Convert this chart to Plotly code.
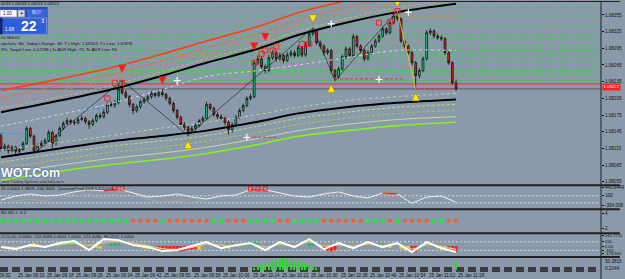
import plotly.graph_objects as go

FONT = "Liberation Sans, Arial, sans-serif"
BG = "#8a9aab"

# ---------------- main price data (M1 bars, index 0..124) ----------------
first_open = 1.08138
closes = [1.08115, 1.08119, 1.08111, 1.08117, 1.08110, 1.08113, 1.08124, 1.08151, 1.08137, 1.08111,
          1.08120, 1.08124, 1.08129, 1.08144, 1.08124, 1.08138, 1.08151, 1.08160, 1.08165, 1.08162,
          1.08161, 1.08167, 1.08169, 1.08163, 1.08158, 1.08165, 1.08174, 1.08172, 1.08180, 1.08194,
          1.08193, 1.08197, 1.08222, 1.08215, 1.08208, 1.08194, 1.08183, 1.08190, 1.08199, 1.08203,
          1.08208, 1.08214, 1.08210, 1.08215, 1.08212, 1.08205, 1.08196, 1.08183, 1.08171, 1.08158,
          1.08153, 1.08146, 1.08151, 1.08156, 1.08165, 1.08169, 1.08194, 1.08187, 1.08176, 1.08172,
          1.08169, 1.08162, 1.08149, 1.08158, 1.08171, 1.08183, 1.08192, 1.08205, 1.08208, 1.08269,
          1.08276, 1.08262, 1.08255, 1.08278, 1.08287, 1.08276, 1.08282, 1.08273, 1.08283, 1.08287,
          1.08282, 1.08296, 1.08283, 1.08301, 1.08321, 1.08326, 1.08305, 1.08299, 1.08287, 1.08291,
          1.08255, 1.08244, 1.08258, 1.08280, 1.08294, 1.08282, 1.08316, 1.08299, 1.08291, 1.08276,
          1.08287, 1.08299, 1.08308, 1.08317, 1.08330, 1.08323, 1.08341, 1.08353, 1.08348, 1.08308,
          1.08299, 1.08287, 1.08269, 1.08246, 1.08255, 1.08276, 1.08323, 1.08326, 1.08317, 1.08314,
          1.08312, 1.08287, 1.08269, 1.08233, 1.08222]
highs = [1.08143, 1.08124, 1.08122, 1.08121, 1.08120, 1.08118, 1.08128, 1.08155, 1.08154, 1.08140,
         1.08124, 1.08129, 1.08133, 1.08148, 1.08147, 1.08141, 1.08155, 1.08164, 1.08170, 1.08168,
         1.08166, 1.08171, 1.08174, 1.08172, 1.08166, 1.08169, 1.08178, 1.08179, 1.08185, 1.08198,
         1.08199, 1.08202, 1.08231, 1.08237, 1.08220, 1.08211, 1.08197, 1.08194, 1.08203, 1.08207,
         1.08212, 1.08218, 1.08217, 1.08219, 1.08222, 1.08215, 1.08208, 1.08199, 1.08186, 1.08174,
         1.08162, 1.08156, 1.08155, 1.08160, 1.08168, 1.08173, 1.08199, 1.08197, 1.08190, 1.08180,
         1.08176, 1.08172, 1.08165, 1.08162, 1.08175, 1.08187, 1.08196, 1.08209, 1.08213, 1.08274,
         1.08282, 1.08280, 1.08266, 1.08283, 1.08292, 1.08290, 1.08287, 1.08285, 1.08288, 1.08292,
         1.08291, 1.08301, 1.08299, 1.08306, 1.08325, 1.08332, 1.08329, 1.08309, 1.08302, 1.08295,
         1.08294, 1.08258, 1.08262, 1.08284, 1.08298, 1.08297, 1.08321, 1.08319, 1.08302, 1.08294,
         1.08291, 1.08303, 1.08312, 1.08321, 1.08334, 1.08333, 1.08345, 1.08357, 1.08362, 1.08351,
         1.08311, 1.08302, 1.08290, 1.08272, 1.08259, 1.08280, 1.08328, 1.08331, 1.08329, 1.08321,
         1.08318, 1.08315, 1.08290, 1.08272, 1.08239]
lows = [1.08110, 1.08111, 1.08106, 1.08108, 1.08105, 1.08106, 1.08111, 1.08121, 1.08133, 1.08106,
        1.08108, 1.08117, 1.08120, 1.08126, 1.08115, 1.08120, 1.08135, 1.08148, 1.08157, 1.08158,
        1.08157, 1.08158, 1.08164, 1.08159, 1.08150, 1.08155, 1.08162, 1.08168, 1.08169, 1.08177,
        1.08189, 1.08188, 1.08194, 1.08211, 1.08203, 1.08189, 1.08177, 1.08179, 1.08186, 1.08195,
        1.08200, 1.08204, 1.08206, 1.08207, 1.08208, 1.08201, 1.08192, 1.08179, 1.08167, 1.08154,
        1.08148, 1.08138, 1.08142, 1.08147, 1.08153, 1.08161, 1.08166, 1.08183, 1.08172, 1.08168,
        1.08165, 1.08157, 1.08140, 1.08144, 1.08155, 1.08168, 1.08180, 1.08189, 1.08201, 1.08205,
        1.08265, 1.08258, 1.08250, 1.08252, 1.08274, 1.08271, 1.08272, 1.08268, 1.08270, 1.08279,
        1.08278, 1.08279, 1.08279, 1.08280, 1.08298, 1.08317, 1.08301, 1.08294, 1.08282, 1.08283,
        1.08250, 1.08237, 1.08240, 1.08255, 1.08276, 1.08278, 1.08279, 1.08295, 1.08286, 1.08271,
        1.08273, 1.08284, 1.08296, 1.08305, 1.08314, 1.08319, 1.08320, 1.08338, 1.08344, 1.08304,
        1.08295, 1.08283, 1.08265, 1.08222, 1.08241, 1.08252, 1.08273, 1.08319, 1.08313, 1.08310,
        1.08308, 1.08283, 1.08265, 1.08229, 1.08219]

main_ticks = [1.08055, 1.08085, 1.08115, 1.08145, 1.08175, 1.08205,
              1.08235, 1.08265, 1.08295, 1.08325, 1.08355]

# ---------------- indicator lines on price chart ----------------
ma_idx = [0, 16, 30, 43, 56, 70, 81, 94, 108, 124]
ma_upper = [1.08180, 1.08201, 1.08221, 1.08244, 1.08269, 1.08294, 1.08319, 1.08341, 1.08360, 1.08375]
band_o1 = [1.08219, 1.08240, 1.08260, 1.08283, 1.08308, 1.08334, 1.08359, 1.08380, 1.08400, 1.08414]
band_o2 = [1.08206, 1.08228, 1.08248, 1.08271, 1.08296, 1.08321, 1.08346, 1.08368, 1.08387, 1.08402]
band_o3 = [1.08197, 1.08219, 1.08239, 1.08262, 1.08287, 1.08312, 1.08337, 1.08359, 1.08378, 1.08393]
band_o4 = [1.08187, 1.08208, 1.08228, 1.08251, 1.08276, 1.08301, 1.08326, 1.08348, 1.08368, 1.08382]
ma_lower = [1.08099, 1.08115, 1.08128, 1.08137, 1.08147, 1.08163, 1.08178, 1.08189, 1.08197, 1.08203]
band_g1 = [1.08090, 1.08106, 1.08119, 1.08128, 1.08138, 1.08155, 1.08169, 1.08180, 1.08189, 1.08194]
band_g2 = [1.08079, 1.08095, 1.08108, 1.08117, 1.08128, 1.08144, 1.08158, 1.08169, 1.08178, 1.08183]
band_g3 = [1.08069, 1.08085, 1.08097, 1.08106, 1.08117, 1.08133, 1.08147, 1.08158, 1.08167, 1.08172]
band_g4 = [1.08058, 1.08074, 1.08086, 1.08095, 1.08106, 1.08122, 1.08137, 1.08147, 1.08156, 1.08162]
light_d1 = [1.08112, 1.08126, 1.08138, 1.08151, 1.08162, 1.08176, 1.08189, 1.08201, 1.08208, 1.08214]
light_d2 = [1.08155, 1.08176, 1.08196, 1.08219, 1.08244, 1.08255, 1.08265, 1.08278, 1.08291, 1.08291]

zigzag_idx = [9, 33, 51, 85, 91, 108]
zigzag_val = [1.08106, 1.08237, 1.08138, 1.08332, 1.08237, 1.08362]
zigzag_last_idx = [108, 113]
zigzag_last_val = [1.08362, 1.08222]

level_prices = [1.08368, 1.08353, 1.08335, 1.08321, 1.08314, 1.08299, 1.08291,
                1.08285, 1.08278, 1.08269, 1.08264, 1.08255, 1.08249, 1.08237]
ask_line = 1.08231
bid_line = 1.08222

seg_start = [-1, 22, 66, 91, 113, 108]
seg_end = [6, 29, 75, 110, 124, 124]
seg_price = [1.08142, 1.08187, 1.08135, 1.08240, 1.08222, 1.08353]
seg_color = ["#3f8fe0", "#3f8fe0", "#e03030", "#e03030", "#e03030", "#ff7a3a"]

red_arrow_idx = [33, 44, 69, 72]
red_arrow_val = [1.08251, 1.08230, 1.08291, 1.08308]
yel_down_idx = [85, 108]
yel_down_val = [1.08341, 1.08369]
yel_up_idx = [51, 90, 113]
yel_up_val = [1.08129, 1.08230, 1.08215]
red_sq_idx = [29, 31, 33, 69, 71, 72, 74, 75, 82, 84, 103, 106, 108]
red_sq_val = [1.08205, 1.08233, 1.08233, 1.08269, 1.08285, 1.08291, 1.08291,
              1.08298, 1.08303, 1.08303, 1.08341, 1.08342, 1.08362]
plus_idx = [48, 67, 90, 103, 111]
plus_val = [1.08237, 1.08135, 1.08339, 1.08239, 1.08360]

# ---------------- sub window 1: QuantumTrend oscillator ----------------
osc_idx = [0, 4, 8, 12, 16, 20, 24, 28, 32, 36, 40, 44, 48, 52, 56, 60,
           64, 68, 72, 76, 80, 84, 88, 92, 96, 100, 104, 108, 112, 116, 120, 124]
osc_gray = [134, -129, -41, -129, 90, 46, 178, -41, 266, 222, -41, -173, -129, -217, 2, 222,
            -41, 441, 354, 222, 46, -41, 222, 441, 90, -173, 134, 354, 2, 2, 266, -304]
osc_white = [-85, 90, 178, 90, 134, 266, 354, 310, 398, 222, 46, 90, 178, 46, -41, 90,
             134, 354, 354, 222, 90, 46, 178, 266, 90, 2, 222, 178, -217, 46, 90, -173]
osc_red_sq_idx = [31, 33, 68, 70, 72]
osc_red_sq_val = [430, 430, 400, 400, 400]

# ---------------- sub window 2: dots ----------------
dot_idx = list(range(0, 125, 2))
dot_codes = ("gggggggggggggggggg" "oooo" "g" "oooooo" "gg" "ooo" "gggg" "oo"
             "gggg" "oooooo" "ggg" "o" "g" "oooo" "gg" "oo")

# ---------------- sub window 3: CCI ----------------
cci_white = [-23, -70, 23, -23, 70, 117, -93, 163, 140, 23, -23, -117, -93, 0, 93, -47,
             23, 70, -93, 93, -23, 163, -70, 70, -47, 93, -23, 70, -140, 93, -47, -140]
cci_khaki = [0, -30, -10, 0, 30, 60, 20, 80, 110, 60, 10, -60, -80, -30, 40, 20,
             0, 50, -20, 40, 10, 100, 0, 30, 0, 50, 10, 40, -70, 30, -10, -80]
hist_green_idx = [17, 18, 19, 20, 30, 31, 32, 65, 66, 67, 68, 69, 70, 84, 85, 102, 103, 104]
hist_green_val = [40, 60, 70, 50, 50, 80, 60, 40, 70, 90, 110, 100, 70, 60, 80, 50, 70, 40]
hist_yel_idx = [8, 9, 10, 26, 27, 39, 40, 54, 61, 62, 106, 109, 110, 111, 119, 120, 121]
hist_yel_val = [50, 70, 40, -40, -60, -50, -70, -80, -40, -60, -40, -60, -90, -70, -50, -80, -60]
hist_red_idx = [42, 43, 44, 45, 46, 47, 48, 49, 50, 51, 52, 53, 88, 89, 90, 91,
                112, 113, 122, 123, 124]
hist_red_val = [-70, -90, -100, -110, -90, -80, -100, -120, -110, -90, -80, -60,
                -60, -100, -120, -90, -110, -130, -90, -120, -130]

# ---------------- sub window 4: histogram ----------------
vol_idx = [69, 70, 71, 72, 73, 74, 75, 76, 77, 78, 79, 80, 81, 82, 83, 84, 85, 86, 124]
vol_val = [0.15, 0.3, 0.45, 0.55, 0.65, 0.75, 0.85, 0.9, 1.0, 0.95, 0.9, 0.8,
           0.7, 0.6, 0.5, 0.4, 0.3, 0.2, 0.7]

time_labels = ["25 Jan 09:10", "25 Jan 09:18", "25 Jan 09:26", "25 Jan 09:34",
               "25 Jan 09:42", "25 Jan 09:50", "25 Jan 09:58", "25 Jan 10:06", "25 Jan 10:14",
               "25 Jan 10:22", "25 Jan 10:30", "25 Jan 10:38", "25 Jan 10:46", "25 Jan 10:54",
               "25 Jan 11:02", "25 Jan 11:18"]
time_label_bars = [4, 12, 20, 28, 36, 44, 52, 60, 68, 76, 84, 92, 100, 108, 116, 124]

# ======================================================================
bars = list(range(len(closes)))
opens = [first_open] + closes[:-1]


def PX(x):
    return x / 606.0


def PY(y):
    return 1 - y / 271.0


fig = go.Figure()

fig.add_trace(go.Candlestick(
    x=bars, open=opens, high=highs, low=lows, close=closes,
    increasing=dict(line=dict(color="#101010", width=0.8), fillcolor="#2fcf8a"),
    decreasing=dict(line=dict(color="#101010", width=0.8), fillcolor="#e8231c"),
    xaxis="x", yaxis="y", hoverinfo="skip"))


def line(x, y, color, width=1, dash="solid", yaxis="y", shape="spline"):
    fig.add_trace(go.Scatter(x=x, y=y, mode="lines", yaxis=yaxis, xaxis="x",
                             line=dict(color=color, width=width, dash=dash, shape=shape),
                             hoverinfo="skip"))


line(ma_idx, band_o4, "#e8a070", 1, "3px,2px")
line(ma_idx, band_o3, "#f07a4a", 1, "3px,2px")
line(ma_idx, band_o2, "#ff6030", 1, "4px,2px")
line(ma_idx, band_o1, "#ff4010", 1.6)
line(ma_idx, light_d2, "#cfd4d6", 1, "3px,3px")
line(ma_idx, light_d1, "#b8d890", 1, "3px,3px")
line(ma_idx, band_g1, "#b8e070", 1, "3px,2px")
line(ma_idx, band_g2, "#98d050", 1, "3px,2px")
line(ma_idx, band_g3, "#c2dca0", 1)
line(ma_idx, band_g4, "#86f020", 1.6)
line(ma_idx, ma_upper, "#000000", 2)
line(ma_idx, ma_lower, "#000000", 2)
line(zigzag_idx, zigzag_val, "#2a2a2a", 0.7, shape="linear")
line(zigzag_last_idx, zigzag_last_val, "#e8c020", 0.9, shape="linear")

for s, e, p, c in zip(seg_start, seg_end, seg_price, seg_color):
    line([s, e], [p, p], c, 1, "3px,2px", shape="linear")


def markers(x, y, symbol, size, color, lcolor=None, lwidth=0, yaxis="y"):
    fig.add_trace(go.Scatter(x=x, y=y, mode="markers", yaxis=yaxis, xaxis="x", hoverinfo="skip",
                             marker=dict(symbol=symbol, size=size, color=color,
                                         line=dict(color=lcolor or color, width=lwidth))))


markers(red_sq_idx, red_sq_val, "square-open", 5, "#ff2020", "#ff2020", 1)
markers(red_arrow_idx, red_arrow_val, "arrow-down", 8, "#ff1a1a")
markers(yel_down_idx, yel_down_val, "arrow-down", 8, "#ffe600", "#9a7a00", 0.5)
markers(yel_up_idx, yel_up_val, "arrow-up", 8, "#ffe600", "#9a7a00", 0.5)
markers(plus_idx, plus_val, "cross-thin", 5, "#ffffff", "#ffffff", 1.2)

# sub window 1
line(osc_idx, osc_gray, "#a4a4a4", 1, yaxis="y2", shape="linear")
line(osc_idx, osc_white, "#eeeeee", 1, yaxis="y2", shape="linear")
for a, b in [(7, 9), (17, 19), (26, 28)]:
    line(osc_idx[a:b], osc_white[a:b], "#ff1a1a", 1.3, yaxis="y2", shape="linear")
markers(osc_red_sq_idx, osc_red_sq_val, "square-open", 4, "#ff2020", "#ff2020", 1, yaxis="y2")

# sub window 2
dot_colors = ["#22ee33" if c == "g" else "#ff5a1f" for c in dot_codes]
fig.add_trace(go.Scatter(x=dot_idx, y=[3] * len(dot_idx), mode="markers", yaxis="y3", xaxis="x",
                         hoverinfo="skip",
                         marker=dict(symbol="square", size=3.6, color=dot_colors, line=dict(width=0))))

# sub window 3
for idx, val, col in [(hist_green_idx, hist_green_val, "#25b870"),
                      (hist_yel_idx, hist_yel_val, "#ffd21a"),
                      (hist_red_idx, hist_red_val, "#ff1a1a")]:
    fig.add_trace(go.Bar(x=idx, y=val, yaxis="y4", xaxis="x", width=0.8, marker=dict(color=col, line=dict(width=0)),
                         hoverinfo="skip"))
line(osc_idx, cci_khaki, "#d9c274", 1.4, yaxis="y4", shape="spline")
line(osc_idx, cci_white, "#ffffff", 2, yaxis="y4", shape="linear")

# sub window 4
fig.add_trace(go.Bar(x=vol_idx, y=vol_val, yaxis="y5", xaxis="x", width=0.35,
                     marker=dict(color="#22dd22", line=dict(width=0)), hoverinfo="skip"))

# ---------------- shapes ----------------
shapes = []
for lv in level_prices:
    shapes.append(dict(type="line", xref="x domain", x0=0, x1=1, yref="y", y0=lv, y1=lv,
                       line=dict(color="#3ccc48", width=1, dash="3px,2px"), layer="below"))
shapes.append(dict(type="line", xref="x domain", x0=0, x1=1, yref="y", y0=ask_line, y1=ask_line,
                   line=dict(color="#ff2a2a", width=1), layer="below"))
shapes.append(dict(type="line", xref="x domain", x0=0, x1=1, yref="y", y0=bid_line, y1=bid_line,
                   line=dict(color="#5a5a5a", width=1), layer="below"))
for v in [100, -200]:
    shapes.append(dict(type="line", xref="x domain", x0=0, x1=1, yref="y2", y0=v, y1=v,
                       line=dict(color="#e6e6e6", width=0.8, dash="2px,2px"), layer="below"))
for v in [100, -100]:
    shapes.append(dict(type="line", xref="x domain", x0=0, x1=1, yref="y4", y0=v, y1=v,
                       line=dict(color="#e6e6e6", width=0.8, dash="2px,2px"), layer="below"))
# window separators / frame
for ypx in [185, 209, 233, 257]:
    shapes.append(dict(type="line", xref="paper", yref="paper", x0=0, x1=PX(625), y0=PY(ypx), y1=PY(ypx),
                       line=dict(color="#202020", width=2)))
shapes.append(dict(type="line", xref="paper", yref="paper", x0=0, x1=PX(625), y0=PY(0.5), y1=PY(0.5),
                   line=dict(color="#202020", width=1)))
shapes.append(dict(type="line", xref="paper", yref="paper", x0=1, x1=1, y0=PY(0), y1=PY(279),
                   line=dict(color="#202020", width=1)))
shapes.append(dict(type="line", xref="paper", yref="paper", x0=0, x1=PX(604), y0=PY(269.5), y1=PY(269.5),
                   line=dict(color="#3c3c3c", width=5, dash="8px,4px"), layer="below"))
# one-click trading panel
shapes += [
    dict(type="rect", xref="paper", yref="paper", x0=PX(0), x1=PX(48), y0=PY(6), y1=PY(34),
         fillcolor="#2a4cb8", line=dict(width=0)),
    dict(type="rect", xref="paper", yref="paper", x0=PX(0), x1=PX(17), y0=PY(9), y1=PY(16),
         fillcolor="#ffffff", line=dict(color="#808080", width=0.5)),
    dict(type="rect", xref="paper", yref="paper", x0=PX(18), x1=PX(25), y0=PY(9), y1=PY(16),
         fillcolor="#d6d6d6", line=dict(color="#808080", width=0.5)),
    dict(type="rect", xref="paper", yref="paper", x0=PX(27), x1=PX(47), y0=PY(8), y1=PY(16),
         fillcolor="#3a63d6", line=dict(width=0)),
    dict(type="rect", xref="paper", yref="paper", x0=PX(0), x1=PX(47), y0=PY(17), y1=PY(33.5),
         fillcolor="#2f5fd8", line=dict(color="#a8bff2", width=0.6)),
    dict(type="rect", xref="paper", yref="paper", x0=PX(0), x1=PX(2.5), y0=PY(17), y1=PY(33.5),
         fillcolor="#16246a", line=dict(width=0)),
]


# ---------------- annotations ----------------
def txt(x, y, text, size=4.3, color="#111111", xanchor="left", **kw):
    return dict(xref="paper", yref="paper", x=PX(x), y=PY(y), text=text, showarrow=False,
                xanchor=xanchor, yanchor="middle", font=dict(size=size, color=color, family=FONT, **kw),
                borderpad=0)


ann = [
    txt(0, 2.5, "0233 1.08239 1.08219 1.08222", 4.2),
    txt(2, 12.5, "1.00", 4.5),
    txt(21.5, 12.5, "▲", 3.5, xanchor="center"),
    txt(37, 12, "BUY", 4.5, "#dfe8ff", xanchor="center"),
    txt(4, 29, "1.08", 4.6, "#ffffff"),
    txt(29, 25.5, "22", 14, "#ffffff", xanchor="center", weight="bold"),
    txt(43.5, 20.5, "3", 6, "#ffffff", xanchor="center"),
    txt(0, 36.5, "01 Mid 01", 4.3),
    txt(0, 42.5, "apshots: No, Today's Range: 48, T's High: 1.08353, T's Low: 1.07876", 4.3),
    txt(0, 48.5, "9%, Target Low: 1.07298 | To ADR High: 73, To ADR Low: 94", 4.3),
    txt(0, 172.5, "WOT.Com", 12.5, "#ffffff", weight="bold", shadow="0px 0px 2px #1f3f9f"),
    txt(1, 181.5, "orex Trading Systems and Indicators", 3.8, "#303030"),
    txt(0, 188.5, "95 0.0000 1.8829 -244.3425  QuantumTrnd (008.5,3,0.5,0)", 4.3),
    txt(0, 212.5, "ED M1 2 :0 0", 4.3),
    txt(0, 236.5, "CCI(-40, 0.0000 -122.4096 0.0000 1.0000 -122.4096 -84.0521 1.0000", 4.3),
    txt(609, 261.5, "50.2815", 4.6),
    txt(609, 268.5, "0.2044", 4.6),
    dict(xref="paper", yref="paper", x=PX(607.5), y=PY(86.5), text="1.08222", showarrow=False,
         xanchor="left", yanchor="middle", bgcolor="#ff2020", borderpad=0.3,
         font=dict(size=4.4, color="#ffffff", family=FONT)),
    dict(xref="x", yref="paper", x=3.2, y=PY(275.5), text="25 Jan 09:02", showarrow=False,
         xanchor="right", yanchor="middle", font=dict(size=4.6, color="#111111", family=FONT)),
]
for b, t in zip(time_label_bars, time_labels):
    ann.append(dict(xref="x", yref="paper", x=b, y=PY(275.5), text=t, showarrow=False,
                    xanchor="left", yanchor="middle", font=dict(size=4.6, color="#111111", family=FONT)))

common_y = dict(side="right", showgrid=False, zeroline=False, ticks="outside", ticklen=2,
                tickcolor="#111111", tickfont=dict(size=4.6, color="#111111", family=FONT),
                anchor="x", fixedrange=True, showline=False)

fig.update_layout(
    width=625, height=279, margin=dict(l=0, r=19, t=0, b=8),
    paper_bgcolor=BG, plot_bgcolor=BG, showlegend=False, hovermode=False, barmode="overlay",
    xaxis=dict(domain=[0, 1], range=[-0.27, 163.5], showgrid=False, zeroline=False,
               showticklabels=False, ticks="", rangeslider=dict(visible=False), anchor="y5",
               fixedrange=True),
    yaxis=dict(domain=[PY(184), 1], range=[1.080505, 1.08380], tickvals=main_ticks,
               ticktext=[f"{v:.5f}" for v in main_ticks], **common_y),
    yaxis2=dict(domain=[PY(208), PY(186)], range=[-432, 505],
                tickvals=[441.6449, 100, -304.006], ticktext=["441.6449", "100", "-304.006"], **common_y),
    yaxis3=dict(domain=[PY(232), PY(210)], range=[1.47, 4.4], tickvals=[4, 2], ticktext=["4", "2"], **common_y),
    yaxis4=dict(domain=[PY(256), PY(234)], range=[-233, 280],
                tickvals=[240.7711, 100, 0, -100, -178.953],
                ticktext=["240.7711", "100", "0.00", "-100", "-178.953"],
                **{**common_y, "tickfont": dict(size=4.2, color="#111111", family=FONT)}),
    yaxis5=dict(domain=[0, PY(258)], range=[-0.08, 1.0], showticklabels=False, ticks="",
                showgrid=False, zeroline=False, anchor="x", fixedrange=True),
    shapes=shapes, annotations=ann,
)

fig.write_html("out.html")
